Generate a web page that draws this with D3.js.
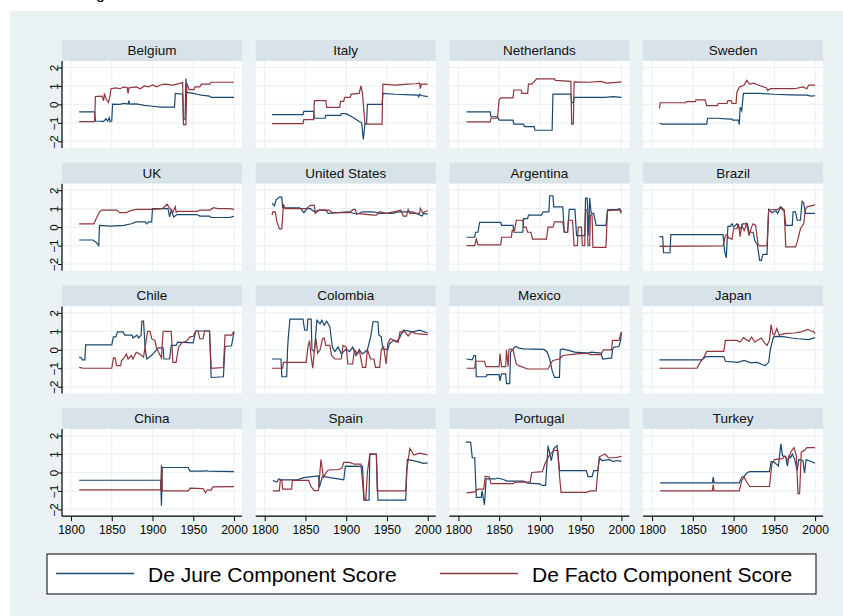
<!DOCTYPE html>
<html>
<head>
<meta charset="utf-8">
<script src="https://cdn.jsdelivr.net/npm/d3@7"></script>
<style>
  body { margin: 0; background: #fff; }
  svg { display: block; font-family: "Liberation Sans", Arial, sans-serif; }
</style>
</head>
<body>
<svg id="chart" width="843" height="616"></svg>
<script>
// [year, score] breakpoints
let belgiumJure = [[1810,-0.4],[1829,-0.4],[1830,-0.9],[1840,-0.92],[1843,-0.78],[1845,-0.9],[1847,-0.72],[1848,-0.95],[1850,-0.9],[1851,0.02],[1860,0.0],[1865,0.05],[1870,0.02],[1871,0.2],[1872,0.02],[1880,0.03],[1890,-0.05],[1900,-0.1],[1910,-0.15],[1927,-0.15],[1928,0.6],[1937,0.55],[1938,-0.8],[1940,-0.8],[1941,1.4],[1942,0.65],[1950,0.6],[1955,0.55],[1960,0.5],[1965,0.48],[1970,0.45],[1972,0.38],[2000,0.38]]
let belgiumFacto = [[1810,-0.93],[1829,-0.93],[1830,0.43],[1838,0.45],[1840,0.2],[1841,0.6],[1843,0.3],[1846,0.1],[1848,0.5],[1849,0.85],[1855,0.9],[1860,0.85],[1865,0.95],[1869,0.9],[1870,0.6],[1871,0.9],[1880,0.95],[1885,0.85],[1890,1.0],[1895,0.95],[1900,1.05],[1905,0.95],[1910,1.05],[1915,1.1],[1925,1.05],[1930,1.1],[1935,1.15],[1937,1.2],[1938,-1.1],[1941,-1.1],[1942,1.15],[1945,0.8],[1951,0.8],[1952,0.95],[1958,0.95],[1960,1.1],[1970,1.1],[1972,1.2],[2000,1.2]]

let italyJure = [[1809,-0.55],[1847,-0.55],[1848,-0.38],[1860,-0.38],[1861,-0.75],[1874,-0.75],[1875,-0.6],[1893,-0.6],[1894,-0.5],[1900,-0.5],[1910,-0.75],[1915,-0.9],[1919,-1.0],[1921,-1.9],[1923,-1.05],[1925,-1.05],[1926,0.0],[1944,0.0],[1945,0.6],[1960,0.55],[1980,0.52],[1988,0.5],[1989,0.42],[1990,0.55],[1992,0.48],[2000,0.42]]
let italyFacto = [[1809,-1.04],[1847,-1.04],[1848,-0.82],[1860,-0.82],[1861,0.2],[1875,0.2],[1876,-0.16],[1892,-0.16],[1893,0.16],[1897,0.16],[1898,0.38],[1905,0.38],[1906,0.56],[1916,0.6],[1918,1.0],[1920,0.6],[1923,-1.07],[1944,-1.07],[1945,1.1],[1960,1.05],[1975,1.1],[1985,1.12],[1990,1.15],[1991,0.85],[1992,1.1],[2000,1.1]]

let netherlandsJure = [[1810,-0.4],[1839,-0.4],[1840,-0.67],[1848,-0.67],[1850,-0.85],[1867,-0.85],[1868,-1.07],[1880,-1.07],[1881,-1.2],[1893,-1.2],[1894,-1.4],[1915,-1.4],[1916,0.56],[1938,0.56],[1939,0.1],[1941,0.1],[1942,0.38],[1960,0.38],[1980,0.38],[1990,0.42],[2000,0.38]]
let netherlandsFacto = [[1810,-0.95],[1839,-0.95],[1840,-0.75],[1848,-0.75],[1850,0.25],[1852,0.35],[1867,0.35],[1868,0.78],[1877,0.78],[1878,0.6],[1885,0.6],[1886,1.1],[1890,1.1],[1896,1.38],[1918,1.38],[1919,1.3],[1938,1.25],[1939,-1.07],[1941,-1.07],[1942,1.22],[1960,1.2],[1975,1.25],[1982,1.15],[1990,1.18],[2000,1.22]]

let swedenJure = [[1809,-1.02],[1812,-1.07],[1867,-1.07],[1868,-0.75],[1880,-0.75],[1890,-0.78],[1898,-0.8],[1899,-0.85],[1906,-0.85],[1907,-1.1],[1908,-0.16],[1910,-0.35],[1912,0.6],[1930,0.6],[1950,0.55],[1970,0.52],[1990,0.5],[1995,0.45],[2000,0.47]]
let swedenFacto = [[1809,-0.22],[1810,0.09],[1841,0.09],[1842,0.15],[1853,0.15],[1854,0.24],[1865,0.24],[1866,0.1],[1867,-0.07],[1880,-0.07],[1881,0.05],[1892,0.05],[1893,0.2],[1897,0.2],[1898,0.05],[1903,0.05],[1904,0.65],[1907,0.93],[1913,1.05],[1916,1.3],[1920,1.1],[1925,1.15],[1930,1.05],[1940,0.9],[1942,0.75],[1945,0.85],[1960,0.85],[1975,0.85],[1985,0.95],[1990,0.85],[1992,1.05],[2000,1.05]]

let ukJure = [[1810,-0.7],[1827,-0.7],[1831,-0.83],[1834,-1.0],[1835,0.09],[1848,0.05],[1865,0.09],[1874,0.18],[1880,0.28],[1891,0.28],[1893,0.18],[1895,0.28],[1899,0.28],[1900,1.0],[1919,1.0],[1921,0.55],[1923,0.92],[1926,0.55],[1930,0.68],[1954,0.68],[1958,0.6],[1970,0.6],[1972,0.52],[1994,0.52],[2000,0.58]]
let ukFacto = [[1810,0.18],[1828,0.18],[1831,0.46],[1835,0.83],[1838,0.92],[1856,0.92],[1860,0.78],[1868,0.78],[1872,0.88],[1880,0.96],[1900,0.96],[1912,1.0],[1918,1.24],[1920,1.1],[1925,0.8],[1928,1.1],[1929,0.8],[1931,0.85],[1955,0.85],[1958,0.92],[1970,0.92],[1975,1.05],[1980,1.0],[1995,1.0],[2000,0.96]]

let usJure = [[1809,1.3],[1812,1.15],[1814,1.48],[1818,1.63],[1821,1.63],[1822,1.05],[1843,1.05],[1845,0.96],[1848,0.78],[1852,1.0],[1856,1.0],[1861,0.83],[1867,0.92],[1875,0.92],[1878,0.74],[1890,0.78],[1902,0.83],[1913,0.7],[1920,0.83],[1933,0.83],[1941,0.74],[1957,0.74],[1965,0.83],[1981,0.83],[1986,0.74],[1993,0.6],[1995,0.74],[2000,0.7]]
let usFacto = [[1809,0.65],[1810,0.83],[1813,0.83],[1815,0.28],[1818,-0.1],[1821,-0.1],[1823,1.24],[1825,1.0],[1851,1.0],[1856,1.18],[1861,1.18],[1862,0.74],[1867,0.92],[1879,0.92],[1883,0.78],[1903,0.78],[1909,0.96],[1911,0.96],[1913,0.74],[1933,0.65],[1937,0.65],[1941,0.83],[1949,0.74],[1967,0.92],[1970,0.6],[1974,0.6],[1976,0.96],[1978,0.74],[1990,0.74],[1991,1.02],[1994,0.78],[2000,0.9]]

let argentinaJure = [[1810,-0.55],[1820,-0.55],[1821,-0.28],[1824,-0.28],[1826,0.26],[1852,0.26],[1853,0.09],[1867,0.09],[1868,-0.28],[1879,-0.28],[1880,0.46],[1885,0.46],[1886,0.65],[1902,0.65],[1904,0.83],[1911,0.83],[1912,1.7],[1916,1.7],[1117+800,1.1],[1928,1.1],[1930,-0.28],[1934,-0.28],[1936,0.96],[1943,0.96],[1945,-0.46],[1955,-0.46],[1956,1.57],[1958,1.57],[1960,-0.46],[1961,1.57],[1963,0.74],[1966,0.74],[1969,0.09],[1981,0.09],[1983,0.93],[1995,0.96],[1998,1.0],[2000,0.83]]
let argentinaFacto = [[1810,-1.0],[1820,-1.0],[1822,-0.65],[1824,-0.96],[1852,-0.96],[1853,-0.55],[1865,-0.55],[1866,-0.18],[1869,-0.18],[1871,0.37],[1879,0.37],[1880,0.0],[1883,0.0],[1885,-0.28],[1889,-0.28],[1891,-0.65],[1908,-0.65],[1910,0.0],[1916,0.0],[1918,0.28],[1928,0.28],[1930,-0.28],[1934,-0.28],[1935,0.37],[1940,0.37],[1942,-1.0],[1946,-1.0],[1947,0.0],[1951,0.0],[1952,-1.0],[1955,-1.0],[1956,0.93],[1958,0.93],[1959,-1.0],[1961,-1.0],[1962,0.65],[1964,0.65],[1965,-1.1],[1981,-1.1],[1983,0.89],[1998,0.93],[2000,0.74]]

let brazilJure = [[1809,-0.52],[1813,-0.52],[1814,-1.39],[1822,-1.39],[1823,-0.41],[1887,-0.41],[1889,-1.3],[1891,-1.67],[1893,0.04],[1896,0.04],[1898,0.18],[1900,0.0],[1904,0.18],[1906,0.0],[1909,-0.09],[1111+800,0.18],[1917,0.18],[1919,-0.28],[1924,-0.28],[1126+800,-0.74],[1129+800,-0.93],[1932,-1.8],[1934,-1.8],[1936,-1.48],[1941,-1.48],[1943,0.96],[1947,0.78],[1952,0.89],[1954,0.74],[1958,1.1],[1962,0.93],[1964,0.09],[1972,0.09],[1973,0.83],[1976,0.83],[1978,0.37],[1982,0.37],[1984,1.39],[1986,1.3],[1988,0.74],[2000,0.74]]
let brazilFacto = [[1809,-1.05],[1887,-1.02],[1890,-0.46],[1892,-0.41],[1894,-0.59],[1898,-0.65],[1900,-0.09],[1904,-0.09],[1906,0.18],[1908,-0.52],[1110+800,0.09],[1913,-0.18],[1916,0.18],[1919,-0.46],[1922,0.0],[1924,0.18],[1927,0.09],[1930,-0.93],[1932,-1.02],[1941,-1.02],[1943,0.93],[1954,0.96],[1957,1.07],[1960,0.93],[1962,0.93],[1964,-1.07],[1976,-1.07],[1978,-0.83],[1982,-0.09],[1986,0.18],[1988,0.93],[1990,1.1],[1995,1.15],[2000,1.2]]

let chileJure = [[1810,-0.4],[1813,-0.44],[1814,-0.55],[1817,-0.55],[1818,0.27],[1850,0.27],[1852,0.7],[1855,0.7],[1857,0.97],[1864,0.97],[1866,0.79],[1875,0.79],[1876,0.64],[1881,0.79],[1883,0.64],[1886,0.79],[1887,1.55],[1889,1.55],[1891,0.05],[1893,-0.5],[1899,-0.3],[1905,0.0],[1907,0.1],[1913,0.1],[1114+800,-0.5],[1921,-0.5],[1923,0.24],[1929,0.24],[1931,0.42],[1950,0.38],[1953,1.02],[1970,1.02],[1972,-1.5],[1987,-1.46],[1989,0.18],[1997,0.22],[2000,0.97]]
let chileFacto = [[1810,-0.95],[1815,-1.0],[1850,-1.0],[1852,-0.44],[1854,-0.44],[1856,-0.86],[1861,-0.86],[1862,-0.58],[1865,-0.44],[1868,-0.22],[1870,-0.5],[1874,-0.31],[1876,-0.5],[1880,-0.13],[1884,-0.22],[1889,-0.4],[1894,1.0],[1897,1.0],[1899,0.6],[1903,0.5],[1905,0.1],[1911,-0.44],[1913,1.0],[1923,1.0],[1925,-0.68],[1929,-0.68],[1932,0.15],[1936,0.37],[1942,0.48],[1946,0.7],[1950,0.73],[1953,1.02],[1956,1.02],[1958,0.6],[1962,0.6],[1964,1.02],[1970,1.02],[1972,-1.0],[1987,-0.96],[1989,0.79],[1997,0.79],[2000,1.0]]

let colombiaJure = [[1809,-0.5],[1820,-0.5],[1821,-1.46],[1827,-1.46],[1828,0.0],[1829,0.7],[1831,1.66],[1847,1.66],[1849,1.06],[1852,1.06],[1853,1.66],[1857,1.66],[1858,0.0],[1861,-0.1],[1864,1.6],[1868,1.4],[1870,1.6],[1873,1.33],[1876,1.55],[1878,1.4],[1880,1.24],[1883,0.15],[1086+800,-0.1],[1890,0.15],[1094+800,-0.22],[1100+800,0.05],[1104+800,-0.1],[1108+800,0.15],[1912,-0.31],[1916,0.0],[1920,-0.22],[1926,0.0],[1930,0.7],[1133+800,1.52],[1939,1.52],[1940,0.8],[1143+800,0.7],[1945,0.05],[1951,0.0],[1153+800,0.33],[1958,0.5],[1962,0.42],[1966,0.7],[1170+800,1.06],[1982,0.97],[1990,1.06],[2000,0.91]]
let colombiaFacto = [[1809,-1.0],[1822,-1.0],[1823,-0.68],[1851,-0.68],[1853,0.15],[1855,0.5],[1857,-0.4],[1859,-1.0],[1861,0.0],[1063+800,0.6],[1065+800,-0.18],[1068+800,0.0],[1071+800,0.6],[1073+800,0.64],[1075+800,0.24],[1080+800,0.24],[1082+800,-0.31],[1086+800,-0.5],[1094+800,-0.5],[1096+800,0.24],[1100+800,0.15],[1102+800,-0.77],[1108+800,-0.77],[1110+800,0.0],[1114+800,-0.22],[1116+800,0.0],[1920,-0.95],[1924,-0.95],[1926,0.0],[1930,-0.5],[1934,-0.5],[1936,-0.95],[1941,-0.95],[1943,0.0],[1946,0.15],[1949,-0.77],[1951,0.33],[1954,0.6],[1960,0.5],[1964,0.42],[1966,0.97],[1972,0.97],[1976,0.75],[1980,0.97],[1986,0.88],[2000,0.82]]

let mexicoJure = [[1810,-0.5],[1817,-0.55],[1819,-0.31],[1821,-0.31],[1822,-1.46],[1834,-1.46],[1835,-1.35],[1850,-1.35],[1851,-1.68],[1853,-1.3],[1858,-1.3],[1859,-1.83],[1863,-1.83],[1864,-0.13],[1869,0.15],[1871,0.18],[1874,0.09],[1880,0.05],[1905,0.02],[1909,-0.13],[1912,-0.5],[1115+800,-1.13],[1918,-1.5],[1924,-1.5],[1925,0.0],[1928,0.05],[1943,-0.13],[1959,-0.18],[1963,-0.13],[1975,-0.18],[1977,-0.5],[1988,-0.44],[1989,0.0],[1991,0.15],[1997,0.18],[1999,0.5],[2000,0.97]]
let mexicoFacto = [[1810,-1.0],[1820,-1.0],[1821,-0.62],[1832,-0.62],[1834,-0.91],[1850,-0.91],[1851,-0.22],[1853,-0.91],[1858,-0.91],[1859,0.0],[1861,-0.91],[1862,0.0],[1864,0.05],[1867,0.0],[1871,-0.77],[1874,-0.86],[1885,-1.04],[1910,-1.04],[1913,-0.77],[1116+800,-0.58],[1924,-0.5],[1928,-0.31],[1945,-0.22],[1958,-0.18],[1962,-0.26],[1975,-0.26],[1978,0.0],[1988,0.0],[1989,0.51],[1997,0.51],[2000,0.97]]

let japanJure = [[1809,-0.55],[1861,-0.55],[1864,-0.44],[1866,-0.37],[1888,-0.37],[1890,-0.62],[1905,-0.68],[1113+800,-0.58],[1121+800,-0.71],[1129+800,-0.68],[1935,-0.8],[1939,-0.86],[1943,-0.68],[1945,0.0],[1949,0.7],[1954,0.73],[1963,0.7],[1971,0.64],[1979,0.6],[1992,0.55],[2000,0.66]]
let japanFacto = [[1809,-1.0],[1855,-1.0],[1859,-0.68],[1863,-0.44],[1867,-0.09],[1888,-0.09],[1890,0.51],[1904,0.51],[1908,0.42],[1912,0.66],[1119+800,0.46],[1122+800,0.69],[1126+800,0.42],[1134+800,0.64],[1938,0.37],[1941,0.24],[1944,0.51],[1946,1.37],[1948,0.88],[1150+800,0.79],[1153+800,1.15],[1956,0.79],[1962,0.88],[1975,0.91],[1983,0.97],[1991,1.1],[1995,1.02],[1998,1.0],[2000,0.88]]

let chinaJure = [[1810,-0.42],[1910,-0.42],[1911,-1.8],[1912,0.27],[1944,0.27],[1946,0.07],[1963,0.07],[1965,0.1],[1968,0.07],[2000,0.05]]
let chinaFacto = [[1810,-0.94],[1910,-0.94],[1911,0.4],[1912,-1.0],[1944,-1.0],[1946,-0.85],[1962,-0.87],[1965,-1.1],[1967,-0.95],[1972,-0.95],[1974,-0.78],[2000,-0.77]]

let spainJure = [[1810,-0.43],[1815,-0.52],[1817,-0.35],[1820,-0.4],[1840,-0.4],[1848,-0.28],[1858,-0.22],[1866,-0.18],[1867,-0.8],[1869,-0.5],[1871,-0.2],[1880,-0.28],[1890,-0.35],[1897,-0.4],[1899,0.35],[1920,0.33],[1922,-1.5],[1928,-1.5],[1929,1.0],[1937,1.0],[1939,-1.5],[1973,-1.5],[1975,0.7],[1985,0.62],[1995,0.5],[2000,0.52]]
let spainFacto = [[1810,-1.0],[1818,-1.0],[1819,-0.43],[1821,-0.43],[1822,-0.9],[1833,-0.9],[1834,-0.43],[1854,-0.43],[1857,-0.78],[1861,-0.98],[1866,-0.98],[1869,0.7],[1872,-0.25],[1877,0.1],[1880,0.15],[1890,0.15],[1895,0.25],[1897,0.55],[1904,0.55],[1910,0.45],[1918,0.45],[1922,-1.5],[1924,-1.5],[1926,0.0],[1929,1.0],[1937,1.0],[1938,-1.0],[1973,-1.0],[1974,0.0],[1978,1.3],[1983,0.95],[1990,1.05],[1996,1.0],[2000,0.95]]

let portugalJure = [[1809,1.65],[1815,1.65],[1817,0.8],[1820,0.8],[1822,-1.35],[1828,-1.35],[1829,-1.0],[1832,-1.75],[1834,-0.35],[1845,-0.35],[1848,-0.3],[1855,-0.38],[1860,-0.47],[1880,-0.47],[1885,-0.58],[1900,-0.62],[1903,-0.7],[1907,-0.7],[1910,1.45],[1914,0.65],[1917,1.3],[1921,1.45],[1924,0.1],[1957,0.1],[1959,-0.22],[1964,-0.22],[1966,0.1],[1971,0.1],[1973,0.8],[1976,0.65],[1985,0.7],[1990,0.6],[1995,0.65],[2000,0.6]]
let portugalFacto = [[1810,-1.1],[1820,-1.05],[1822,-0.95],[1825,-0.9],[1831,-0.9],[1833,-0.2],[1838,-0.25],[1840,-0.6],[1867,-0.6],[1870,-0.52],[1888,-0.52],[1890,0.0],[1903,0.05],[1906,0.45],[1911,0.9],[1917,1.2],[1922,1.2],[1924,-0.16],[1926,-1.08],[1957,-1.08],[1962,-1.0],[1969,-1.0],[1970,-0.43],[1973,0.85],[1980,1.0],[1984,0.8],[1992,0.8],[2000,0.87]]

let turkeyJure = [[1810,-0.56],[1874,-0.56],[1875,-0.25],[1876,-0.56],[1907,-0.56],[1910,-0.25],[1913,-0.2],[1917,0.0],[1920,0.05],[1944,0.05],[1946,0.6],[1950,0.55],[1955,0.35],[1958,1.55],[1960,0.9],[1964,0.85],[1966,0.35],[1968,0.9],[1970,0.8],[1972,1.0],[1975,0.7],[1978,0.1],[1980,0.7],[1985,0.65],[1987,-0.02],[1989,0.7],[1995,0.6],[2000,0.5]]
let turkeyFacto = [[1810,-1.0],[1874,-1.0],[1875,-0.65],[1876,-1.0],[1907,-1.0],[1910,-0.43],[1913,-0.25],[1916,-0.5],[1920,-0.76],[1944,-0.76],[1947,0.45],[1950,0.7],[1960,0.75],[1963,0.9],[1967,0.65],[1970,1.1],[1974,1.35],[1977,0.9],[1979,-1.15],[1981,-1.15],[1983,1.1],[1987,1.2],[1990,1.35],[2000,1.35]]

let countries = ["Belgium","Italy","Netherlands","Sweden","UK","United States","Argentina","Brazil","Chile","Colombia","Mexico","Japan","China","Spain","Portugal","Turkey"]
let jureSeries = [belgiumJure,italyJure,netherlandsJure,swedenJure,ukJure,usJure,argentinaJure,brazilJure,chileJure,colombiaJure,mexicoJure,japanJure,chinaJure,spainJure,portugalJure,turkeyJure]
let factoSeries = [belgiumFacto,italyFacto,netherlandsFacto,swedenFacto,ukFacto,usFacto,argentinaFacto,brazilFacto,chileFacto,colombiaFacto,mexicoFacto,japanFacto,chinaFacto,spainFacto,portugalFacto,turkeyFacto]

let xTicks = [1800,1850,1900,1950,2000]
let yTicks = [-2,-1,0,1,2]
let legendLabels = ["De Jure Component Score","De Facto Component Score"]

let jureColor = "#1a476f"
let factoColor = "#90353b"

let svg = d3.select("#chart")

// caption fragment cut off at the top of the image
svg.append("text").attr("x", 96).attr("y", -1).attr("font-size", 16).text("g")

svg.append("rect")
    .attr("x", 10).attr("y", 11)
    .attr("width", 833).attr("height", 605)
    .attr("fill", "#eaf2f3")

let colX = [62, 255.7, 449.4, 643.1]
let rowY = [40, 162.7, 285.4, 408.1]
let panelW = 180
let stripH = 21
let plotH = 87

let x = d3.scaleLinear().domain([1800, 2000]).range([9, 172])
let y = d3.scaleLinear().domain([-2, 2]).range([80.3, 6.5])

let line = d3.line()
    .x(d => x(d[0]))
    .y(d => y(d[1]))

countries.forEach((name, i) => {
    let col = i % 4
    let row = Math.floor(i / 4)
    let g = svg.append("g")
        .attr("transform", "translate(" + colX[col] + "," + rowY[row] + ")")

    g.append("rect")
        .attr("width", panelW).attr("height", stripH)
        .attr("fill", "#d7e3e8")
    g.append("text")
        .attr("x", panelW / 2).attr("y", 15)
        .attr("text-anchor", "middle")
        .attr("font-size", 13.5)
        .attr("fill", "#111")
        .text(name)

    let p = g.append("g").attr("transform", "translate(0," + stripH + ")")
    p.append("rect")
        .attr("width", panelW).attr("height", plotH)
        .attr("fill", "#fff")

    p.selectAll(".vgrid").data(xTicks).enter()
        .append("line")
        .attr("x1", d => x(d)).attr("x2", d => x(d))
        .attr("y1", 0).attr("y2", plotH)
        .attr("stroke", "#eaf2f3").attr("stroke-width", 1.2)
    p.selectAll(".hgrid").data(yTicks).enter()
        .append("line")
        .attr("x1", 0).attr("x2", panelW)
        .attr("y1", d => y(d)).attr("y2", d => y(d))
        .attr("stroke", "#eaf2f3").attr("stroke-width", 1.2)

    p.append("path")
        .attr("d", line(jureSeries[i]))
        .attr("fill", "none")
        .attr("stroke", jureColor)
        .attr("stroke-width", 1.2)
    p.append("path")
        .attr("d", line(factoSeries[i]))
        .attr("fill", "none")
        .attr("stroke", factoColor)
        .attr("stroke-width", 1.2)

    if (col === 0) {
        let ya = p.append("g").call(d3.axisLeft(y).tickValues(yTicks).tickSize(4).tickFormat(d3.format("d")))
        ya.select(".domain").attr("stroke", "#000").attr("stroke-width", 1.2).attr("d", "M0,0V" + plotH)
        ya.selectAll(".tick line").attr("stroke", "#000")
        ya.selectAll(".tick text")
            .attr("font-size", 11.5)
            .attr("font-family", "Liberation Sans, Arial, sans-serif")
            .attr("fill", "#000")
            .attr("text-anchor", "middle")
            .attr("x", null).attr("dy", null)
            .attr("dominant-baseline", "central")
            .attr("transform", "translate(-8,0) rotate(-90)")
    }
    if (row === 3) {
        let xa = p.append("g")
            .attr("transform", "translate(0," + plotH + ")")
            .call(d3.axisBottom(x).tickValues(xTicks).tickSize(5).tickFormat(d3.format("d")))
        xa.select(".domain").attr("stroke", "#000").attr("stroke-width", 1.2).attr("d", "M0,0H" + panelW)
        xa.selectAll(".tick line").attr("stroke", "#000")
        xa.selectAll(".tick text")
            .attr("font-size", 12)
            .attr("font-family", "Liberation Sans, Arial, sans-serif")
            .attr("fill", "#000")
            .attr("y", 9)
    }
})

// legend
let legend = svg.append("g")
legend.append("rect")
    .attr("x", 47).attr("y", 554)
    .attr("width", 769).attr("height", 40)
    .attr("fill", "#fff").attr("stroke", "#000").attr("stroke-width", 1)

let legendX = [56, 440]
legendLabels.forEach((label, i) => {
    legend.append("line")
        .attr("x1", legendX[i]).attr("x2", legendX[i] + 78)
        .attr("y1", 573.5).attr("y2", 573.5)
        .attr("stroke", i === 0 ? jureColor : factoColor)
        .attr("stroke-width", 1.5)
    legend.append("text")
        .attr("x", legendX[i] + 92).attr("y", 582)
        .attr("font-size", 21)
        .attr("fill", "#000")
        .text(label)
})
</script>
</body>
</html>
